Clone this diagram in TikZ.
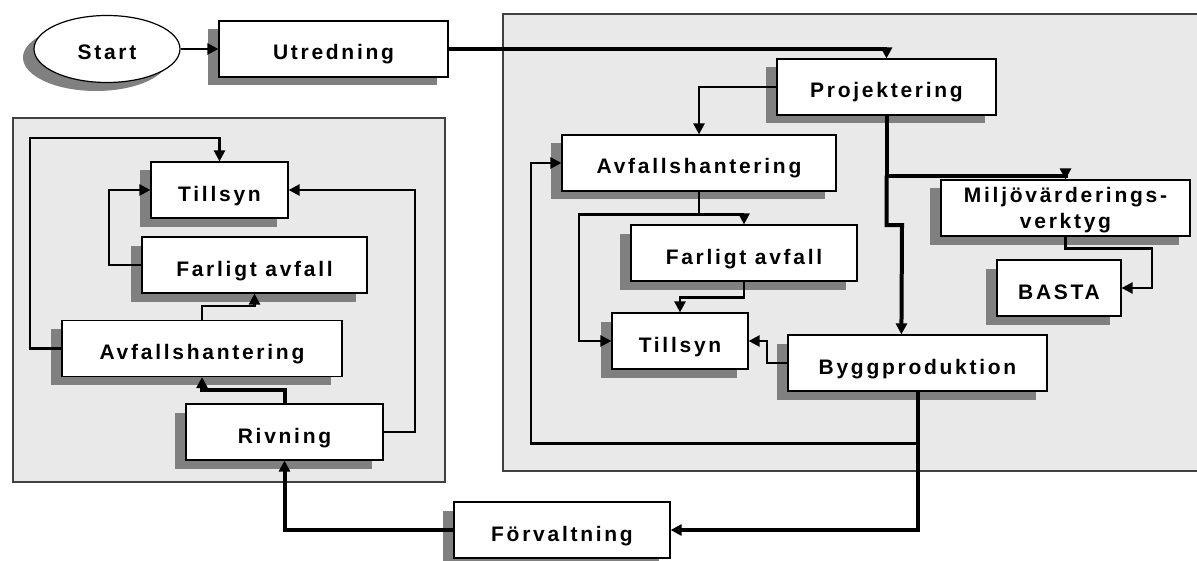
\documentclass[tikz,border=0pt]{standalone}
\usepackage{fontspec}
\newfontfamily\lblfont[LetterSpace=13]{Liberation Sans}
\usetikzlibrary{arrows.meta,shapes.geometric,shadows,calc}
\definecolor{panelgray}{HTML}{E9E9E9}
\definecolor{shadowgray}{HTML}{808080}
\definecolor{paneledge}{HTML}{404040}
\tikzset{
  stagebox/.style={draw=black, line width=0.6pt, fill=white, inner sep=0pt,
    minimum height=28pt, align=center, text height=11pt, text depth=0pt,
    font=\lblfont\bfseries\fontsize{10.5}{13}\selectfont,
    drop shadow={shadow xshift=-5.5pt, shadow yshift=-4.25pt, fill=shadowgray, opacity=1}},
  startshape/.style={stagebox, ellipse, minimum width=73pt, minimum height=33.5pt},
  panel/.style={fill=panelgray, draw=paneledge, line width=0.6pt},
  flow/.style={line width=1.2pt, -{Triangle[length=5.5pt,width=5.5pt]}},
  mainflow/.style={line width=2pt, -{Triangle[length=5.5pt,width=5.5pt]}},
}
\begin{document}
\begin{tikzpicture}[x=0.5pt, y=-0.5pt]
\useasboundingbox (0,0) rectangle (1197,561);

% background panels
\draw[panel] (13,118) rectangle (445,482);
\fill[panelgray] (503,14) rectangle (1197,471);
\draw[paneledge, line width=0.6pt] (1197,14) -- (503,14) -- (503,471) -- (1197,471);

% top row
\node[startshape] (start) at (107,49) {Start};
\node[stagebox, minimum width=114.5pt] (utr) at (333.5,49) {Utredning};

% left panel
\node[stagebox, minimum width=68.5pt] (tillL) at (219.5,190) {Tillsyn};
\node[stagebox, minimum width=112.5pt] (farL) at (254.5,265) {Farligt avfall};
\node[stagebox, minimum width=140pt] (avfL) at (202,348.5) {Avfallshantering};
\node[stagebox, minimum width=98.5pt] (riv) at (284.5,432) {Rivning};

% bottom
\node[stagebox, minimum width=108pt] (forv) at (562,530) {Förvaltning};

% right panel
\node[stagebox, minimum width=109.5pt] (proj) at (886.5,87) {Projektering};
\node[stagebox, minimum width=137pt] (avfR) at (699,163) {Avfallshantering};
\node[stagebox, minimum width=113pt] (farR) at (744,253) {Farligt avfall};
\node[stagebox, minimum width=68pt] (tillR) at (680,341) {Tillsyn};
\node[stagebox, minimum width=129.5pt] (bygg) at (917.5,363) {Byggproduktion};
\node[stagebox, minimum width=124.5pt, text height=24pt, text depth=4pt] (milj) at (1065.5,208) {Miljövärderings-\\verktyg};
\node[stagebox, minimum width=62pt] (basta) at (1059,288) {BASTA};

% main sequence
\draw[flow] (start.east) -- (start.east -| utr.west);
\draw[mainflow] (utr.east) -| (proj.north);
\coordinate (split) at ($(proj.south)+(0,60)$);
\draw[mainflow] (proj.south) -- (split) -| (milj.north);
\draw[mainflow] (split) |- (902,225) -- ($(bygg.north west)+(114,0)$);
\draw[flow] (bygg.south) -- ++(0,52) -| (531,163) -- (avfR.west);
\draw[mainflow] (bygg.south) |- (forv.east);
\draw[mainflow] (forv.west) -| (riv.south);

% right panel links
\draw[flow] (proj.west) -| (avfR.north);
\draw[line width=1.2pt] (avfR.south) -- ++(0,23) coordinate (fork);
\draw[flow] (fork) -| (farR.north);
\draw[flow] (fork) -| (579,341) -- (tillR.west);
\draw[flow] (farR.south) -- ++(0,16) -| (tillR.north);
\draw[flow] (bygg.west) -| (767,341) -- (tillR.east);
\draw[flow] (milj.south) -- ++(0,12) -| (1152,288) -- (basta.east);

% left panel links
\draw[flow] (avfL.west) -| (30,138) -| (tillL.north);
\draw[flow] (farL.west) -| (109,190) -- (tillL.west);
\draw[flow] (riv.east) -| (415,190) -- (tillL.east);
\draw[flow] (avfL.north) |- (254.5,306) -- (farL.south);
\draw[mainflow] (riv.north) |- (202,390) -- (avfL.south);
\end{tikzpicture}
\end{document}
